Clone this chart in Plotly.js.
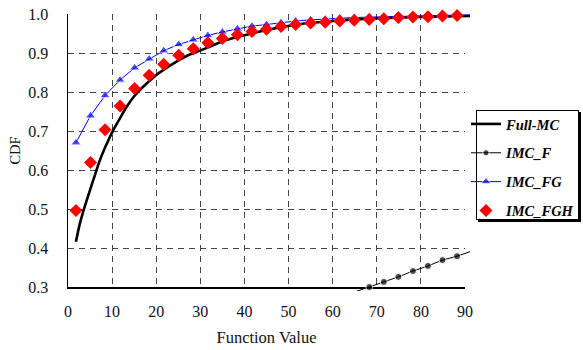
<!DOCTYPE html>
<html>
<head>
<meta charset="utf-8">
<script src="https://cdn.plot.ly/plotly-3.0.1.min.js"></script>
<style>
html,body{margin:0;padding:0;background:#fff;}
#wrap{position:relative;width:583px;height:350px;}
#chart{width:583px;height:350px;}
#legbox{position:absolute;left:476px;top:110px;width:101px;height:108px;border:1px solid #000;box-shadow:2px 2px 0 #000;background:transparent;pointer-events:none;z-index:10;}
</style>
</head>
<body>
<div id="wrap"><div id="chart"></div><div id="legbox"></div></div>
<script>
// ---- data ----
const fullMcX = [1.8, 2.7, 3.6, 5.0, 6.1, 7.1, 8.5, 10.3, 12.0, 13.3, 15.0, 17.1, 20.1, 22.5, 24.6, 27.0, 29.9, 32.5, 35.2, 38.0, 40.5, 43.5, 48.1, 52.0, 55.6, 60.0, 63.2, 70.7, 78.3, 85.9, 91.2];
const fullMcY = [0.416, 0.463, 0.499, 0.549, 0.587, 0.621, 0.660, 0.703, 0.737, 0.762, 0.789, 0.814, 0.844, 0.863, 0.878, 0.893, 0.906, 0.918, 0.931, 0.940, 0.947, 0.955, 0.966, 0.973, 0.978, 0.982, 0.985, 0.989, 0.992, 0.994, 0.995];

const imcFX = [64.9, 68.3, 71.6, 74.9, 78.2, 81.6, 84.9, 88.2, 91.5];
const imcFY = [0.287, 0.300, 0.313, 0.326, 0.341, 0.354, 0.369, 0.379, 0.392];

const imcFGX = [1.8, 5.1, 8.4, 11.8, 15.1, 18.4, 21.7, 25.1, 28.4, 31.7, 35.0, 38.4, 41.7, 45.0, 48.3, 51.6, 55.0, 58.3, 61.6, 64.9, 68.3, 71.6, 74.9, 78.2, 81.6, 84.9, 88.2, 91.5];
const imcFGY = [0.670, 0.739, 0.791, 0.831, 0.862, 0.885, 0.906, 0.922, 0.934, 0.945, 0.954, 0.962, 0.969, 0.973, 0.978, 0.982, 0.985, 0.987, 0.990, 0.991, 0.992, 0.993, 0.994, 0.995, 0.996, 0.997, 0.997, 0.998];

const imcFGHX = [1.8, 5.1, 8.4, 11.8, 15.1, 18.4, 21.7, 25.1, 28.4, 31.7, 35.0, 38.4, 41.7, 45.0, 48.3, 51.6, 55.0, 58.3, 61.6, 64.9, 68.3, 71.6, 74.9, 78.2, 81.6, 84.9, 88.2];
const imcFGHY = [0.496, 0.619, 0.703, 0.764, 0.809, 0.843, 0.871, 0.894, 0.911, 0.926, 0.937, 0.947, 0.955, 0.961, 0.968, 0.973, 0.977, 0.979, 0.982, 0.984, 0.986, 0.988, 0.991, 0.992, 0.993, 0.995, 0.996];

const seriesNames = ['Full-MC', 'IMC_F', 'IMC_FG', 'IMC_FGH'];
const xTicks = [0, 10, 20, 30, 40, 50, 60, 70, 80, 90];
const yTicks = [0.3, 0.4, 0.5, 0.6, 0.7, 0.8, 0.9, 1.0];
const xRange = [0, 90];
const yRange = [0.3, 1.0];

// ---- layout geometry ----
const W = 583, H = 350;
const mL = 68, mR = 113, mT = 14, mB = 59;
const padR = 5, padB = 4;
const pw = W - mL - mR, ph = H - mT - mB;
const mainXDom = [0, (pw - padR) / pw];
const mainYDom = [padB / ph, 1];
const ext2X = [xRange[0], xRange[0] + (xRange[1] - xRange[0]) * pw / (pw - padR)];
const ext2Y = [yRange[1] - (yRange[1] - yRange[0]) * ph / (ph - padB), yRange[1]];
const px2x = p => (p - mL) / pw;
const px2y = p => (H - mB - p) / ph;

function sizesFor(xs, s) { return xs.map(v => (v < xRange[0] || v > xRange[1]) ? 0 : s); }

const serif = 'Liberation Serif, Times New Roman, serif';

const traces = [
  {x: xRange, y: yRange, mode: 'markers', xaxis: 'x', yaxis: 'y', marker: {opacity: 0},
   showlegend: false, hoverinfo: 'skip'},
  {x: fullMcX, y: fullMcY, name: seriesNames[0], mode: 'lines', xaxis: 'x2', yaxis: 'y2',
   line: {color: '#000', width: 2.6, shape: 'spline', smoothing: 0.8}, legendgroup: 'a'},
  {x: imcFX, y: imcFY, name: seriesNames[1], mode: 'lines+markers', xaxis: 'x2', yaxis: 'y2',
   line: {color: '#000', width: 1}, marker: {symbol: 'circle', color: '#000', size: sizesFor(imcFX, 7)},
   cliponaxis: false, legendgroup: 'b'},
  {x: imcFGX, y: imcFGY, name: seriesNames[2], mode: 'lines+markers', xaxis: 'x2', yaxis: 'y2',
   line: {color: '#0000ff', width: 1}, marker: {symbol: 'triangle-up', color: '#0000ff', size: sizesFor(imcFGX, 9)},
   cliponaxis: false, legendgroup: 'c'},
  {x: imcFGHX, y: imcFGHY, name: seriesNames[3], mode: 'markers', xaxis: 'x2', yaxis: 'y2',
   marker: {symbol: 'diamond', color: '#ff0000', size: 10},
   cliponaxis: false, legendgroup: 'd'}
];

const gridStyle = {showgrid: true, gridcolor: '#444', griddash: '6px,5px', gridwidth: 1};

const layout = {
  width: W, height: H,
  margin: {l: mL, r: mR, t: mT, b: mB, pad: 0, autoexpand: false},
  paper_bgcolor: '#fff', plot_bgcolor: 'rgba(0,0,0,0)',
  font: {family: serif, size: 14, color: '#111'},
  showlegend: true,
  legend: {
    x: px2x(466), y: px2y(108), xanchor: 'left', yanchor: 'top',
    bgcolor: 'rgba(0,0,0,0)', borderwidth: 0,
    font: {family: serif, size: 14.5, color: '#000', weight: 'bold', style: 'italic'},
    traceorder: 'grouped', tracegroupgap: 7, itemwidth: 30
  },
  xaxis: Object.assign({
    domain: mainXDom, range: xRange, tickvals: xTicks, ticktext: xTicks.map(String),
    showline: true, linecolor: '#000', linewidth: 1.5, zeroline: false,
    ticks: 'outside', ticklen: 9, tickcolor: 'rgba(0,0,0,0)',
    tickfont: {family: serif, size: 16, color: '#111'},
    title: {text: 'Function Value', font: {family: serif, size: 16.5, color: '#111'}, standoff: 12},
    anchor: 'y', fixedrange: true
  }, gridStyle),
  yaxis: Object.assign({
    domain: mainYDom, range: yRange, tickvals: yTicks, ticktext: yTicks.map(v => v.toFixed(1)),
    showline: true, linecolor: '#000', linewidth: 1.5, zeroline: false,
    ticks: 'outside', ticklen: 15, tickcolor: 'rgba(0,0,0,0)',
    tickfont: {family: serif, size: 16, color: '#111'},
    title: {text: 'CDF', font: {family: serif, size: 14.5, color: '#111'}, standoff: 4},
    anchor: 'x', fixedrange: true
  }, gridStyle),
  xaxis2: {domain: [0, 1], range: ext2X, visible: false, anchor: 'y2', fixedrange: true},
  yaxis2: {domain: [0, 1], range: ext2Y, visible: false, anchor: 'x2', fixedrange: true}
};

Plotly.newPlot('chart', traces, layout, {displayModeBar: false, staticPlot: true});
</script>
</body>
</html>
